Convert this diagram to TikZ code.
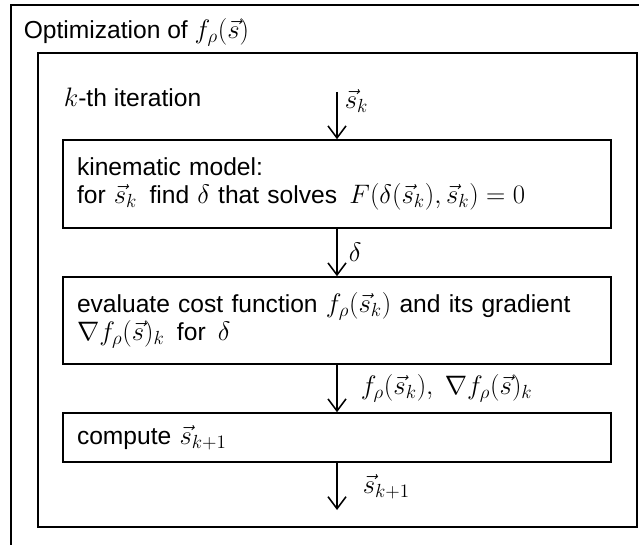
\RequirePackage{fix-cm}
\documentclass[tikz,border=0pt]{standalone}
\usepackage[no-math]{fontspec}
\setmainfont{Liberation Sans}
\DeclareMathSizes{17.5}{19}{13.5}{10}
\usetikzlibrary{arrows.meta}

\begin{document}
\begin{tikzpicture}[
    line width=1.1pt,
    every node/.style={font=\fontsize{17.5}{20}\selectfont},
    stepbox/.style={draw, rectangle, inner xsep=0.35cm, text width=13.0cm,
        align=left},
    flow/.style={-{Straight Barb[length=3mm,width=4.5mm]}},
    lbl/.style={right, inner sep=5pt}
]

    % Frame of the picture
    \useasboundingbox (0,0) rectangle (15.975,13.6);
    \clip (0,0) rectangle (15.975,13.6);

    % Outer box, cut off at the right and at the bottom
    \draw (0.275,-1) rectangle (17,13.475);
    \node[anchor=west, inner sep=0pt] (title) at (0.575,12.8)
        {Optimization of $f_\rho(\vec{s})$};

    % Inner box: one iteration
    \draw (0.95,0.425) rectangle (15.925,12.275);
    \node[anchor=west, inner sep=0pt] (iter) at (1.575,11.175)
        {$k$-th iteration};

    % Steps
    \node[stepbox, minimum height=2.2cm] (kin) at (8.425,9.0)
        {kinematic model:\\
         for $\vec{s}_k$\, find $\delta$ that solves\, $F(\delta(\vec{s}_k),\vec{s}_k)=0$\\[10pt]};
    \node[stepbox, minimum height=2.175cm] (cost) at (8.425,5.5875)
        {evaluate cost function $f_\rho(\vec{s}_k)$ and its gradient\\
         $\nabla f_\rho(\vec{s})_k$\, for\, $\delta$\\[18pt]};
    \node[stepbox, minimum height=1.225cm] (upd) at (8.425,2.6625)
        {compute $\vec{s}_{k+1}$};

    % Flow between the steps
    \coordinate (in) at (8.425,11.3);
    \coordinate (out) at (8.425,0.85);
    \draw[flow] (in) -- node[lbl, pos=0.18] {$\vec{s}_k$} (kin);
    \draw[flow] (kin) -- node[lbl, xshift=0.1cm] {$\delta$} (cost);
    \draw[flow] (cost) -- node[lbl, xshift=0.4cm]
        {$f_\rho(\vec{s}_k),\ \nabla f_\rho(\vec{s})_k$} (upd);
    \draw[flow] (upd) -- node[lbl, xshift=0.45cm] {$\vec{s}_{k+1}$} (out);

\end{tikzpicture}
\end{document}
